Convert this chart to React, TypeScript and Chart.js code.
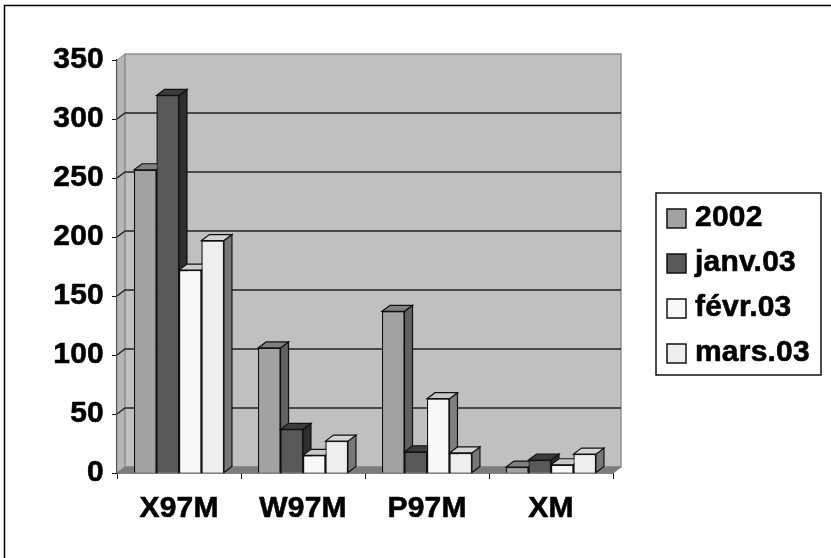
import React, { useEffect, useRef } from "react";
import { Chart, registerables } from "chart.js";

Chart.register(...registerables);

const categories = ["X97M", "W97M", "P97M", "XM"];
const seriesNames = ["2002", "janv.03", "févr.03", "mars.03"];
const values2002 = [257, 106, 137, 5];
const valuesJanv = [320, 37, 18, 11];
const valuesFevr = [172, 15, 63, 7];
const valuesMars = [197, 27, 17, 16];
const frontColors = ["#a2a2a2", "#585858", "#f8f8f8", "#eeeeee"];
const topColors = ["#808080", "#3c3c3c", "#c8c8c8", "#d4d4d4"];
const sideColors = ["#626262", "#2e2e2e", "#808080", "#787878"];
const legendRowY = [218, 263, 308, 353];

const DX = 8;
const DY = -6;
const FAMILY = '"Liberation Sans", Arial, sans-serif';
const FONT = `bold 30px ${FAMILY}`;

const poly = (ctx: CanvasRenderingContext2D, pts: number[][], fill: string, stroke = "#111", lw = 1.2) => {
  ctx.beginPath();
  pts.forEach((p, i) => (i ? ctx.lineTo(p[0], p[1]) : ctx.moveTo(p[0], p[1])));
  ctx.closePath();
  ctx.fillStyle = fill;
  ctx.fill();
  if (lw > 0) {
    ctx.lineWidth = lw;
    ctx.strokeStyle = stroke;
    ctx.stroke();
  }
};

const box3d = {
  id: "box3d",
  beforeDraw(chart: any) {
    chart.ctx.letterSpacing = "0.2px";
  },
  beforeDatasetsDraw(chart: any) {
    const { ctx, chartArea: a, scales } = chart;
    const y = scales.y;
    ctx.save();
    poly(ctx, [[a.left, a.top], [a.left + DX, a.top + DY], [a.left + DX, a.bottom + DY], [a.left, a.bottom]], "#b6b6b6", "#909090", 1);
    poly(ctx, [[a.left + DX, a.top + DY], [a.right + DX, a.top + DY], [a.right + DX, a.bottom + DY], [a.left + DX, a.bottom + DY]], "#c0c0c0", "#909090", 1.5);
    poly(ctx, [[a.left, a.bottom], [a.left + DX, a.bottom + DY], [a.right + DX, a.bottom + DY], [a.right, a.bottom]], "#7c7c7c", "#7c7c7c", 1);
    ctx.strokeStyle = "#222";
    ctx.lineWidth = 1.5;
    y.ticks.forEach((t: any) => {
      if (t.value === 0 || t.value === y.max) return;
      const py = y.getPixelForValue(t.value);
      ctx.beginPath();
      ctx.moveTo(a.left, py);
      ctx.lineTo(a.left + DX, py + DY);
      ctx.lineTo(a.right + DX, py + DY);
      ctx.stroke();
    });
    ctx.restore();
  },
  afterDatasetsDraw(chart: any) {
    const { ctx } = chart;
    ctx.save();
    chart.data.datasets.forEach((_: any, i: number) => {
      chart.getDatasetMeta(i).data.forEach((bar: any) => {
        const l = bar.x - bar.width / 2;
        const r = bar.x + bar.width / 2;
        const t = bar.y;
        const b = bar.base;
        poly(ctx, [[r, t], [r + DX, t + DY], [r + DX, b + DY], [r, b]], sideColors[i]);
        poly(ctx, [[l, t], [l + DX, t + DY], [r + DX, t + DY], [r, t]], topColors[i]);
        bar.draw(ctx);
      });
    });
    ctx.restore();
  },
  afterDraw(chart: any) {
    const { ctx, width, height } = chart;
    ctx.save();
    // picture frame: only the top and left edges show
    ctx.strokeStyle = "#000";
    ctx.lineWidth = 1.5;
    ctx.beginPath();
    ctx.moveTo(width, 5.5);
    ctx.lineTo(4.5, 5.5);
    ctx.lineTo(4.5, height);
    ctx.stroke();
    // legend
    ctx.lineWidth = 1.5;
    ctx.strokeStyle = "#111";
    ctx.fillStyle = "#fff";
    ctx.fillRect(656, 193, 165, 182);
    ctx.strokeRect(656, 193, 165, 182);
    ctx.font = FONT;
    ctx.textBaseline = "middle";
    chart.data.datasets.forEach((ds: any, i: number) => {
      const cy = legendRowY[i];
      ctx.fillStyle = frontColors[i];
      ctx.strokeStyle = "#111";
      ctx.lineWidth = 1.5;
      ctx.fillRect(667, cy - 9, 19, 19);
      ctx.strokeRect(667, cy - 9, 19, 19);
      ctx.fillStyle = "#000";
      ctx.lineWidth = 0.6;
      ctx.strokeStyle = "#000";
      ctx.fillText(ds.label, 695, cy);
      ctx.strokeText(ds.label, 695, cy);
    });
    ctx.restore();
  },
};

export default function App() {
  const ref = useRef<HTMLCanvasElement>(null);
  useEffect(() => {
    document.body.style.margin = "0";
    const data = [values2002, valuesJanv, valuesFevr, valuesMars];
    const tickFont = { family: FAMILY, weight: "bold", size: 30 };
    const chart = new Chart(ref.current!, {
      type: "bar",
      data: {
        labels: categories,
        datasets: seriesNames.map((label, i) => ({
          label,
          data: data[i],
          backgroundColor: frontColors[i],
          borderColor: "#111",
          borderWidth: 1.2,
          categoryPercentage: 0.725,
          barPercentage: 1,
        })),
      },
      plugins: [box3d],
      options: {
        animation: false,
        responsive: false,
        layout: { padding: { left: 0, right: 218, top: 60, bottom: 0 } },
        plugins: { legend: { display: false }, tooltip: { enabled: false } },
        scales: {
          x: {
            grid: { drawOnChartArea: false, color: "#111", tickLength: 6, offset: true },
            border: { color: "#111", width: 1.5 },
            ticks: { color: "#000", font: tickFont, padding: 12, maxRotation: 0, textStrokeColor: "#000", textStrokeWidth: 0.6 },
            afterFit: (s: any) => { s.height = 85; },
          },
          y: {
            min: 0,
            max: 350,
            grid: { drawOnChartArea: false, color: "#111", tickLength: 5 },
            border: { color: "#111", width: 1.5 },
            ticks: { stepSize: 50, color: "#000", font: tickFont, padding: 8, textStrokeColor: "#000", textStrokeWidth: 0.6 },
            afterFit: (s: any) => { s.width = 117; },
          },
        },
      } as any,
    });
    return () => chart.destroy();
  }, []);
  return <canvas ref={ref} width={831} height={558} style={{ display: "block", filter: "blur(0.4px)" }} />;
}
